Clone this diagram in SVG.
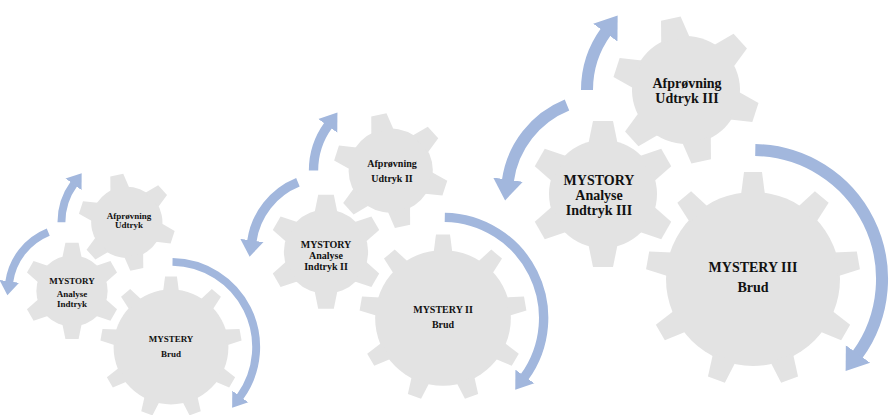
<svg xmlns="http://www.w3.org/2000/svg" xmlns:xlink="http://www.w3.org/1999/xlink" width="891" height="415" viewBox="0 0 891 415">
<style>
.gout{fill:#e3e3e3;stroke:#ffffff;stroke-width:3;stroke-linejoin:round}
.gin{fill:#e3e3e3;stroke:none}
.arc{fill:none;stroke:#a2b7dd;stroke-width:12;stroke-linecap:butt}
.t{font-family:"Liberation Serif","Times New Roman",serif;font-weight:bold;text-anchor:middle;fill:#111111}
.t3{font-size:14px}
.t2{font-size:10px}
.t1{font-size:9px}
</style>
<defs>
<marker id="ah" markerUnits="userSpaceOnUse" markerWidth="24" markerHeight="32" viewBox="0 -16 24 32" refX="1" refY="0" orient="auto">
<path d="M0,-15 L21,0 L0,15 Z" fill="#a2b7dd"/>
</marker>
<g id="g9">
<circle r="87"/>
<polygon id="t9" points="-12,-84 12,-84 9,-107 -9,-107"/>
<use href="#t9" transform="rotate(40)"/>
<use href="#t9" transform="rotate(80)"/>
<use href="#t9" transform="rotate(120)"/>
<use href="#t9" transform="rotate(160)"/>
<use href="#t9" transform="rotate(200)"/>
<use href="#t9" transform="rotate(240)"/>
<use href="#t9" transform="rotate(280)"/>
<use href="#t9" transform="rotate(320)"/>
</g>
<g id="g6">
<circle r="54"/>
<polygon id="t6" points="-14.5,-51 14.5,-51 10,-73 -10,-73"/>
<use href="#t6" transform="rotate(60)"/>
<use href="#t6" transform="rotate(120)"/>
<use href="#t6" transform="rotate(180)"/>
<use href="#t6" transform="rotate(240)"/>
<use href="#t6" transform="rotate(300)"/>
</g>
<g id="arrowset">
<path class="arc" d="M755.3,150 A129,129 0 0 1 857.4,354.8" marker-end="url(#ah)"/>
<path class="arc" d="M567,105 A96,96 0 0 0 507.9,180.6" marker-end="url(#ah)"/>
<path class="arc" d="M587,90 A99,99 0 0 1 605.9,31.8" marker-end="url(#ah)"/>
</g>
</defs>

<!-- Cluster 1 -->
<g id="c1-brud">
<g transform="translate(171,347) scale(0.66)"><use href="#g9" class="gout"/><use href="#g9" class="gin"/></g>
<text class="t t1" x="171" y="342">MYSTERY</text>
<text class="t t1" x="171" y="357">Brud</text>
</g>
<g id="c1-analyse">
<g transform="translate(72,290.9) scale(0.66)"><use href="#g6" class="gout"/><use href="#g6" class="gin"/></g>
<text class="t t1" x="72" y="284">MYSTORY</text>
<text class="t t1" x="72" y="297">Analyse</text>
<text class="t t1" x="72" y="307">Indtryk</text>
</g>
<g id="c1-afproevning">
<g transform="translate(126.8,222.3) scale(0.66) rotate(-12)"><use href="#g6" class="gout"/><use href="#g6" class="gin"/></g>
<text class="t t1" x="129" y="219">Afprøvning</text>
<text class="t t1" x="129" y="228">Udtryk</text>
</g>

<!-- Cluster 2 -->
<g id="c2-brud">
<g transform="translate(443,318) scale(0.78)"><use href="#g9" class="gout"/><use href="#g9" class="gin"/></g>
<text class="t t2" x="443" y="313">MYSTERY II</text>
<text class="t t2" x="443" y="328">Brud</text>
</g>
<g id="c2-analyse">
<g transform="translate(326,251.7) scale(0.78)"><use href="#g6" class="gout"/><use href="#g6" class="gin"/></g>
<text class="t t2" x="326" y="248">MYSTORY</text>
<text class="t t2" x="326" y="259">Analyse</text>
<text class="t t2" x="326" y="270">Indtryk II</text>
</g>
<g id="c2-afproevning">
<g transform="translate(390.7,170.6) scale(0.78) rotate(-12)"><use href="#g6" class="gout"/><use href="#g6" class="gin"/></g>
<text class="t t2" x="392" y="167">Afprøvning</text>
<text class="t t2" x="392" y="182">Udtryk II</text>
</g>

<!-- Cluster 3 -->
<g id="c3-brud">
<g transform="translate(753,279)"><use href="#g9" class="gout"/><use href="#g9" class="gin"/></g>
<text class="t t3" x="753" y="272">MYSTERY III</text>
<text class="t t3" x="753" y="292">Brud</text>
</g>
<g id="c3-analyse">
<g transform="translate(603,194)"><use href="#g6" class="gout"/><use href="#g6" class="gin"/></g>
<text class="t t3" x="599" y="185">MYSTORY</text>
<text class="t t3" x="599" y="200">Analyse</text>
<text class="t t3" x="599" y="215">Indtryk III</text>
</g>
<g id="c3-afproevning">
<g transform="translate(686,90) rotate(-12)"><use href="#g6" class="gout"/><use href="#g6" class="gin"/></g>
<text class="t t3" x="687" y="88">Afprøvning</text>
<text class="t t3" x="687" y="103">Udtryk III</text>
</g>

<g id="connectors">
<use href="#arrowset"/>
<use href="#arrowset" transform="translate(443,318) scale(0.78) translate(-753,-279)"/>
<use href="#arrowset" transform="translate(171,347) scale(0.66) translate(-753,-279)"/>
</g>
</svg>
